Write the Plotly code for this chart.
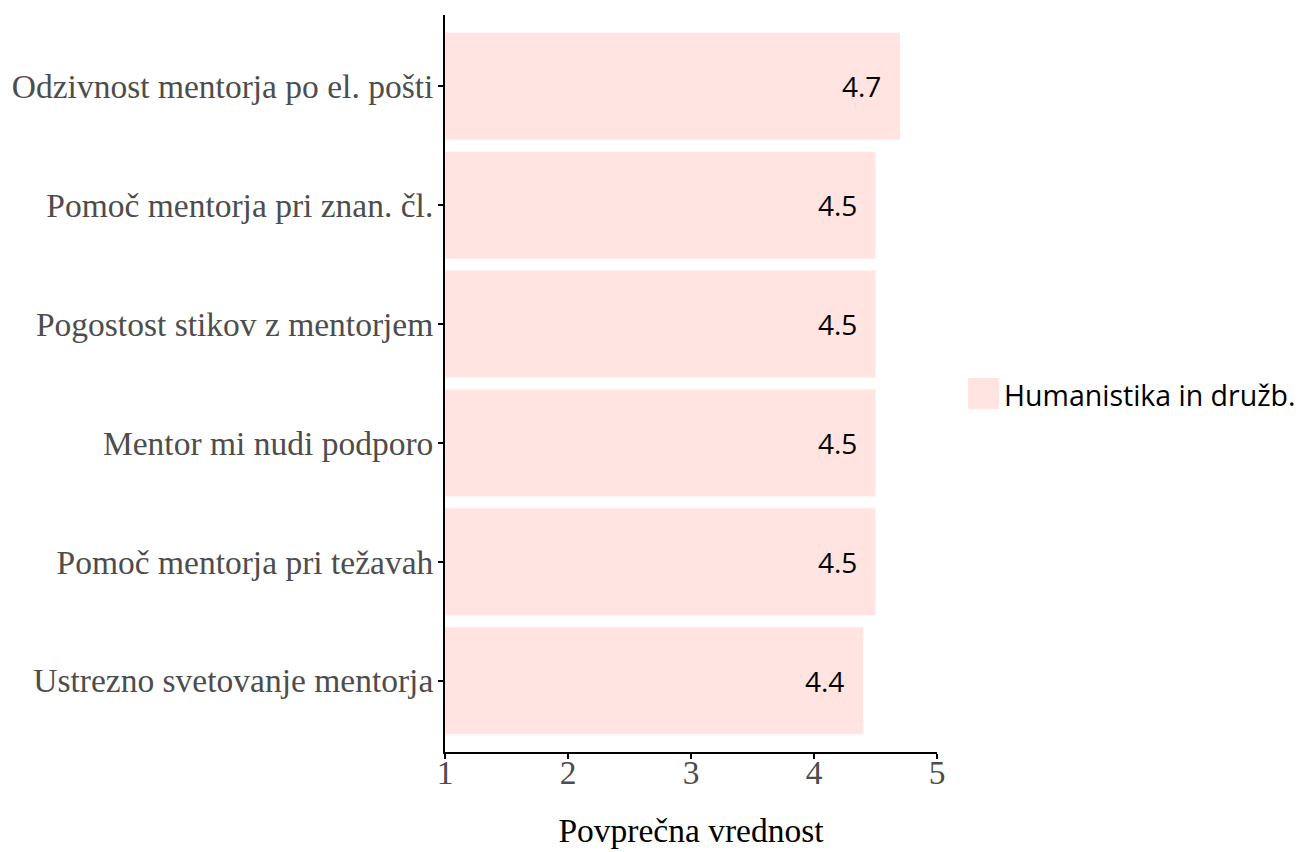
import plotly.graph_objects as go

categories = [
    "Ustrezno svetovanje mentorja",
    "Pomoč mentorja pri težavah",
    "Mentor mi nudi podporo",
    "Pogostost stikov z mentorjem",
    "Pomoč mentorja pri znan. čl.",
    "Odzivnost mentorja po el. pošti",
]
values = [4.4, 4.5, 4.5, 4.5, 4.5, 4.7]
labels = ["4.4", "4.5", "4.5", "4.5", "4.5", "4.7"]
series_name = "Humanistika in družb."
x_ticks = [1, 2, 3, 4, 5]

BAR_COLOR = "#FFE4E1"
SERIF = "Liberation Serif"
SANS = "Open Sans"

fig = go.Figure()
fig.add_trace(go.Bar(
    y=categories,
    x=[v - 1 for v in values],
    base=1,
    orientation="h",
    marker=dict(color=BAR_COLOR, line=dict(width=0)),
    width=0.9,
    name=series_name,
    showlegend=False,
    hoverinfo="skip",
))

for c, v, t in zip(categories, values, labels):
    fig.add_annotation(x=v, y=c, xref="x", yref="y", text=t, showarrow=False,
                       xanchor="right", xshift=-17,
                       font=dict(family=SANS, size=28, color="black"))

# legend key drawn manually (large square key like the reference)
fig.add_shape(type="rect", xref="paper", yref="paper",
              x0=1.063, x1=1.126, y0=0.4654, y1=0.5075,
              fillcolor=BAR_COLOR, line=dict(width=0))
fig.add_annotation(xref="paper", yref="paper", x=1.133, y=0.4844,
                   text=series_name, showarrow=False, xanchor="left", yanchor="middle",
                   font=dict(family=SANS, size=28.5, color="black"))

fig.update_layout(
    width=1303, height=844,
    margin=dict(l=437, r=374, t=7, b=100),
    plot_bgcolor="white", paper_bgcolor="white",
    bargap=0.1,
    xaxis=dict(
        range=[1, 5], tickvals=x_ticks, ticktext=[str(t) for t in x_ticks],
        automargin=False,
        showgrid=False, zeroline=False,
        showline=True, linecolor="black", linewidth=2,
        ticks="outside", ticklen=5, tickwidth=2, tickcolor="black",
        ticklabelstandoff=-15,
        tickfont=dict(family=SERIF, size=33.5, color="#4D4D4D"),
        title=dict(text="Povprečna vrednost", font=dict(family=SERIF, size=33.5, color="black"), standoff=28),
    ),
    yaxis=dict(
        categoryorder="array", categoryarray=categories,
        range=[-0.6, 5.6],
        automargin=False,
        showgrid=False, zeroline=False,
        showline=True, linecolor="black", linewidth=2,
        ticks="outside", ticklen=5, tickwidth=2, tickcolor="black",
        ticklabelstandoff=-2,
        tickfont=dict(family=SERIF, size=33.5, color="#4D4D4D"),
    ),
)

fig.write_html("out.html")
